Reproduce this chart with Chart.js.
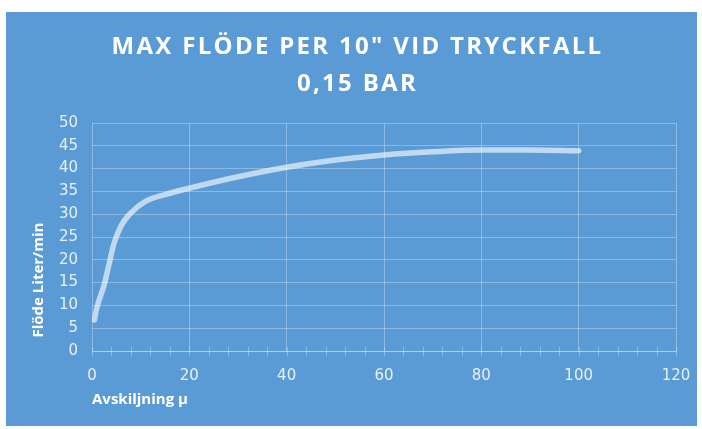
<!DOCTYPE html>
<html>
<head>
<meta charset="utf-8">
<script src="https://cdn.jsdelivr.net/npm/chart.js@4.4.1/dist/chart.umd.min.js"></script>
<style>
  html, body { margin: 0; padding: 0; background: #ffffff; }
  #panel { position: absolute; left: 6px; top: 12px; width: 691px; height: 414px; background: #5b9bd5; }
  #chart { display: block; }
</style>
</head>
<body>
<div id="panel"><canvas id="chart" width="691" height="414"></canvas></div>
<script>
// Data kurva dibaca dari gambar referensi
const avskiljning = [0.5, 1, 2.5, 3.5, 4.5, 6, 8, 11, 15, 20, 30, 40, 50, 60, 70, 80, 90, 100];
const flode = [6.8, 9.5, 14.5, 19, 23.5, 27.5, 30.3, 32.8, 34.3, 35.7, 38.2, 40.3, 41.9, 43.0, 43.7, 44.1, 44.1, 43.9];
const titleLines = ['MAX FLÖDE PER 10" VID TRYCKFALL', '0,15 BAR'];
const xTitle = 'Avskiljning µ';
const yTitle = 'Flöde Liter/min';

document.addEventListener('DOMContentLoaded', function () {
    const gridColor = 'rgba(255,255,255,0.3)';
    const textColor = 'rgba(255,255,255,0.85)';

    // Plugin: judul bergaris dua, tick minor yang menyilang sumbu X, judul sumbu Y
    const extras = {
        id: 'extras',
        afterDraw(chart) {
            const { ctx, scales } = chart;
            const xs = scales.x;
            const yBase = chart.chartArea.bottom;
            ctx.save();
            ctx.strokeStyle = gridColor;
            ctx.lineWidth = 1;
            xs.ticks.forEach(t => {
                const px = Math.round(xs.getPixelForValue(t.value)) + 0.5;
                ctx.beginPath();
                ctx.moveTo(px, yBase - 4);
                ctx.lineTo(px, yBase + 5);
                ctx.stroke();
            });

            // judul utama
            ctx.fillStyle = '#ffffff';
            ctx.textAlign = 'center';
            ctx.textBaseline = 'middle';
            ctx.font = 'bold 24px "Open Sans"';
            ctx.letterSpacing = '2.3px';
            ctx.fillText(titleLines[0], chart.width / 2 + 6, 35);
            ctx.fillText(titleLines[1], chart.width / 2 + 6, 72);
            ctx.letterSpacing = '0px';

            // judul sumbu Y
            ctx.translate(33, 268);
            ctx.rotate(-Math.PI / 2);
            ctx.font = 'bold 15px "Open Sans"';
            ctx.fillText(yTitle, 0, 0);
            ctx.restore();
        }
    };

    new Chart(document.getElementById('chart'), {
        type: 'line',
        plugins: [extras],
        data: {
            datasets: [{
                data: avskiljning.map((x, i) => ({ x: x, y: flode[i] })),
                borderColor: 'rgba(255,255,255,0.62)',
                borderWidth: 5.5,
                borderCapStyle: 'round',
                pointRadius: 0,
                cubicInterpolationMode: 'monotone',
                fill: false
            }]
        },
        options: {
            responsive: false,
            animation: false,
            layout: { padding: { left: 0, right: 21, top: 111, bottom: 17 } },
            plugins: {
                legend: { display: false },
                tooltip: { enabled: false },
                title: { display: false }
            },
            scales: {
                x: {
                    type: 'linear',
                    min: 0,
                    max: 120,
                    ticks: {
                        stepSize: 4,
                        autoSkip: false,
                        maxRotation: 0,
                        color: textColor,
                        font: { family: 'DejaVu Sans', size: 15 },
                        padding: 16,
                        callback: v => (v % 20 === 0 ? String(v) : '')
                    },
                    grid: {
                        color: c => (c.tick && c.tick.value % 20 === 0 ? gridColor : 'rgba(0,0,0,0)'),
                        drawTicks: false
                    },
                    border: { color: gridColor },
                    title: {
                        display: true,
                        text: xTitle,
                        align: 'start',
                        color: '#ffffff',
                        font: { family: 'Open Sans', size: 15, weight: 'bold' },
                        padding: { top: 4, bottom: 0 }
                    },
                    afterFit(scale) {
                        scale.height = 58;
                        scale.paddingRight = 0;
                        scale.paddingLeft = 0;
                    }
                },
                y: {
                    min: 0,
                    max: 50,
                    ticks: {
                        stepSize: 5,
                        color: textColor,
                        font: { family: 'DejaVu Sans', size: 15 },
                        padding: 14
                    },
                    grid: { color: gridColor, drawTicks: false },
                    border: { display: false },
                    afterFit(scale) {
                        scale.width = 86;
                        scale.paddingTop = 0;
                    }
                }
            }
        }
    });
});
</script>
</body>
</html>
